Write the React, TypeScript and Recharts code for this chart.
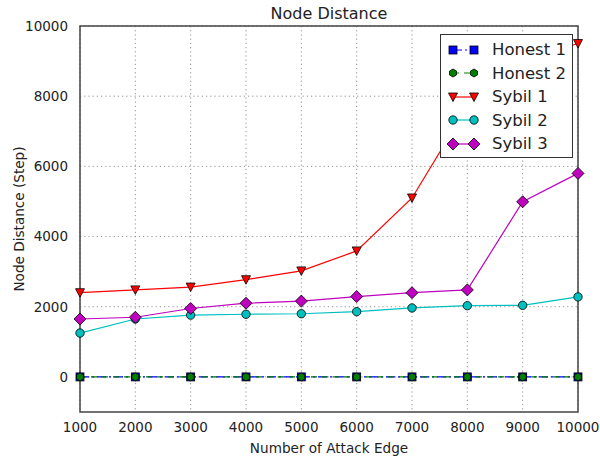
import React from "react";
import {
  LineChart, Line, XAxis, YAxis, CartesianGrid, ReferenceArea,
} from "recharts";

const edges = [1000, 2000, 3000, 4000, 5000, 6000, 7000, 8000, 9000, 10000];
const honest1 = [0, 0, 0, 0, 0, 0, 0, 0, 0, 0];
const honest2 = [0, 0, 0, 0, 0, 0, 0, 0, 0, 0];
const sybil1 = [2400, 2480, 2560, 2770, 3020, 3590, 5100, 7700, 9000, 9500];
const sybil2 = [1250, 1650, 1760, 1785, 1800, 1860, 1965, 2030, 2040, 2280];
const sybil3 = [1650, 1700, 1950, 2100, 2160, 2290, 2400, 2480, 4990, 5800];
const xTicks = [1000, 2000, 3000, 4000, 5000, 6000, 7000, 8000, 9000, 10000];
const yTicks = [0, 2000, 4000, 6000, 8000, 10000];

const data = edges.map((e, i) => ({
  edge: e, h1: honest1[i], h2: honest2[i], s1: sybil1[i], s2: sybil2[i], s3: sybil3[i],
}));

const FONT = "DejaVu Sans, sans-serif";
const TXT = "#222";

type Shape = "square" | "hex" | "tri" | "circle" | "diamond";

function marker(shape: Shape, cx: number, cy: number, fill: string, key?: any) {
  const st = { fill, stroke: "#000", strokeWidth: 0.8 };
  switch (shape) {
    case "square":
      return <rect key={key} x={cx - 4} y={cy - 4} width={8} height={8} {...st} />;
    case "hex": {
      const pts = [0, 1, 2, 3, 4, 5].map((k) => {
        const a = (Math.PI / 3) * k + Math.PI / 6;
        return `${cx + 4 * Math.cos(a)},${cy + 4 * Math.sin(a)}`;
      }).join(" ");
      return <polygon key={key} points={pts} {...st} />;
    }
    case "tri":
      return <polygon key={key} points={`${cx - 4.5},${cy - 4} ${cx + 4.5},${cy - 4} ${cx},${cy + 4.5}`} {...st} />;
    case "circle":
      return <circle key={key} cx={cx} cy={cy} r={4.2} {...st} />;
    case "diamond":
      return <polygon key={key} points={`${cx},${cy - 6} ${cx + 6},${cy} ${cx},${cy + 6} ${cx - 6},${cy}`} {...st} />;
  }
}

const mkDot = (shape: Shape, fill: string) => (p: any) =>
  p.cx == null ? <g key={p.index} /> : <g key={p.index}>{marker(shape, p.cx, p.cy, fill)}</g>;

const series = [
  { key: "h1", name: "Honest 1", color: "#0000ff", dash: "9 3 2 3", shape: "square" as Shape },
  { key: "h2", name: "Honest 2", color: "#008000", dash: "6 5", shape: "hex" as Shape },
  { key: "s1", name: "Sybil 1", color: "#ff0000", dash: undefined, shape: "tri" as Shape },
  { key: "s2", name: "Sybil 2", color: "#00bfbf", dash: undefined, shape: "circle" as Shape },
  { key: "s3", name: "Sybil 3", color: "#bf00bf", dash: undefined, shape: "diamond" as Shape },
];

const LegendBox = () => (
  <div style={{
    position: "absolute", top: 34, left: 440, boxSizing: "border-box",
    border: "1.3px solid #333", background: "#fff", width: 133, height: 124, paddingTop: 3,
    fontFamily: FONT, fontSize: 16.5, color: "#222", whiteSpace: "nowrap",
  }}>
    {series.map((s) => (
      <div key={s.key} style={{ display: "flex", alignItems: "center", height: 23.5 }}>
        <svg width={34} height={16} style={{ marginLeft: 5, flex: "none" }}>
          <line x1={7} y1={8} x2={28} y2={8} stroke={s.color} strokeWidth={1.2} strokeDasharray={s.dash} />
          {marker(s.shape, 7, 8, s.color, "a")}
          {marker(s.shape, 28, 8, s.color, "b")}
        </svg>
        <span style={{ marginLeft: 12 }}>{s.name}</span>
      </div>
    ))}
  </div>
);

export default function App() {
  return (
    <div style={{ position: "absolute", left: 0, top: 0, width: 600, height: 456, background: "#fff" }}>
      <div style={{
        position: "absolute", top: 4, left: 80, width: 498, textAlign: "center",
        fontFamily: FONT, fontSize: 16, color: TXT,
      }}>Node Distance</div>
      <LineChart width={600} height={456} data={data}
        margin={{ top: 26, right: 22, left: 0, bottom: 0 }}>
        <CartesianGrid stroke="#777" strokeDasharray="1.2 3" strokeWidth={0.8}
          verticalValues={xTicks} horizontalValues={yTicks} />
        <XAxis dataKey="edge" type="number" domain={[1000, 10000]} ticks={xTicks}
          height={44} tickLine={false} axisLine={false} interval={0}
          tick={{ fontFamily: FONT, fontSize: 13.5, fill: TXT }} tickMargin={4}
          label={{ value: "Number of Attack Edge", position: "insideBottom", offset: 3,
            style: { fontFamily: FONT, fontSize: 13.6, fill: TXT } }} />
        <YAxis type="number" domain={[-1000, 10000]} ticks={yTicks} width={80}
          tickLine={false} axisLine={false} allowDataOverflow interval={0}
          tick={{ fontFamily: FONT, fontSize: 13.5, fill: TXT }} tickMargin={6}
          label={{ value: "Node Distance (Step)", angle: -90, position: "insideLeft", offset: 19,
            style: { fontFamily: FONT, fontSize: 13.6, fill: TXT, textAnchor: "middle" } }} />
        <ReferenceArea x1={1000} x2={10000} y1={-1000} y2={10000} fill="none"
          stroke="#444" strokeWidth={1.5} ifOverflow="visible" />
        {series.map((s) => (
          <Line key={s.key} dataKey={s.key} name={s.name} stroke={s.color} strokeWidth={1.2}
            strokeDasharray={s.dash} dot={mkDot(s.shape, s.color)} activeDot={false}
            isAnimationActive={false} type="linear" />
        ))}
      </LineChart>
      <LegendBox />
    </div>
  );
}
